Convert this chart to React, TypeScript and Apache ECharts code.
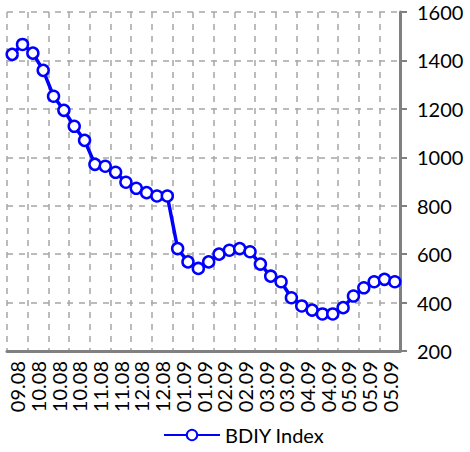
import React, { useEffect, useRef } from "react";
import * as echarts from "echarts";

const monthLabels = [
  "09.08", "10.08", "10.08", "10.08", "11.08", "11.08", "12.08", "12.08",
  "01.09", "01.09", "02.09", "02.09", "03.09", "03.09", "04.09", "04.09",
  "05.09", "05.09", "05.09",
];

const weekIndex = [
  "1", "2", "3", "4", "5", "6", "7", "8", "9", "10", "11", "12", "13", "14",
  "15", "16", "17", "18", "19", "20", "21", "22", "23", "24", "25", "26", "27",
  "28", "29", "30", "31", "32", "33", "34", "35", "36", "37", "38",
];

const bdiyValues = [
  1425, 1466, 1430, 1359, 1252, 1194, 1128, 1070, 971, 963, 938, 897, 872, 854,
  840, 840, 623, 568, 541, 568, 600, 616, 623, 610, 559, 509, 486, 420, 386,
  369, 353, 353, 379, 427, 461, 486, 496, 486,
];

const seriesName = "BDIY Index";

export default function App() {
  const ref = useRef<HTMLDivElement>(null);
  useEffect(() => {
    document.body.style.margin = "0";
    const chart = echarts.init(ref.current!, null, { renderer: "svg" });
    const font = "Lato";
    chart.setOption({
      animation: false,
      textStyle: { fontFamily: font },
      grid: { left: 7, right: 70, top: 12, bottom: 101 },
      legend: {
        bottom: 2,
        left: 158,
        itemWidth: 56,
        itemHeight: 13,
        itemGap: 6,
        textStyle: { fontSize: 20, color: "#000", fontFamily: font },
        data: [seriesName],
      },
      xAxis: [
        {
          type: "category",
          data: monthLabels,
          position: "bottom",
          boundaryGap: true,
          axisLine: { show: true, lineStyle: { color: "#808080", width: 3 } },
          axisTick: { show: false },
          splitLine: {
            show: true,
            interval: 0,
            lineStyle: { color: "#a6a6a6", width: 1.5, type: [6, 6] },
          },
          axisLabel: {
            interval: 0,
            rotate: 90,
            fontSize: 20,
            color: "#000",
            margin: 10,
            fontFamily: font,
          },
        },
        {
          type: "category",
          data: weekIndex,
          show: false,
          boundaryGap: true,
        },
      ],
      yAxis: {
        type: "value",
        position: "right",
        min: 200,
        max: 1600,
        interval: 200,
        axisLine: { show: true, lineStyle: { color: "#808080", width: 3 } },
        axisTick: {
          show: true,
          length: 7,
          lineStyle: { color: "#808080", width: 2 },
        },
        splitLine: {
          show: true,
          lineStyle: { color: "#a6a6a6", width: 1.5, type: [6, 6] },
        },
        axisLabel: {
          fontSize: 20,
          color: "#000",
          margin: 17,
          fontFamily: font,
          formatter: (v: number) => String(v),
        },
      },
      series: [
        {
          name: seriesName,
          type: "line",
          xAxisIndex: 1,
          data: bdiyValues,
          symbol: "circle",
          symbolSize: 11,
          showAllSymbol: true,
          lineStyle: { color: "#0000ff", width: 3.5 },
          itemStyle: { color: "#ffffff", borderColor: "#0000ff", borderWidth: 2.5 },
        },
      ],
    });
    return () => chart.dispose();
  }, []);
  return <div ref={ref} style={{ width: 470, height: 452 }} />;
}
